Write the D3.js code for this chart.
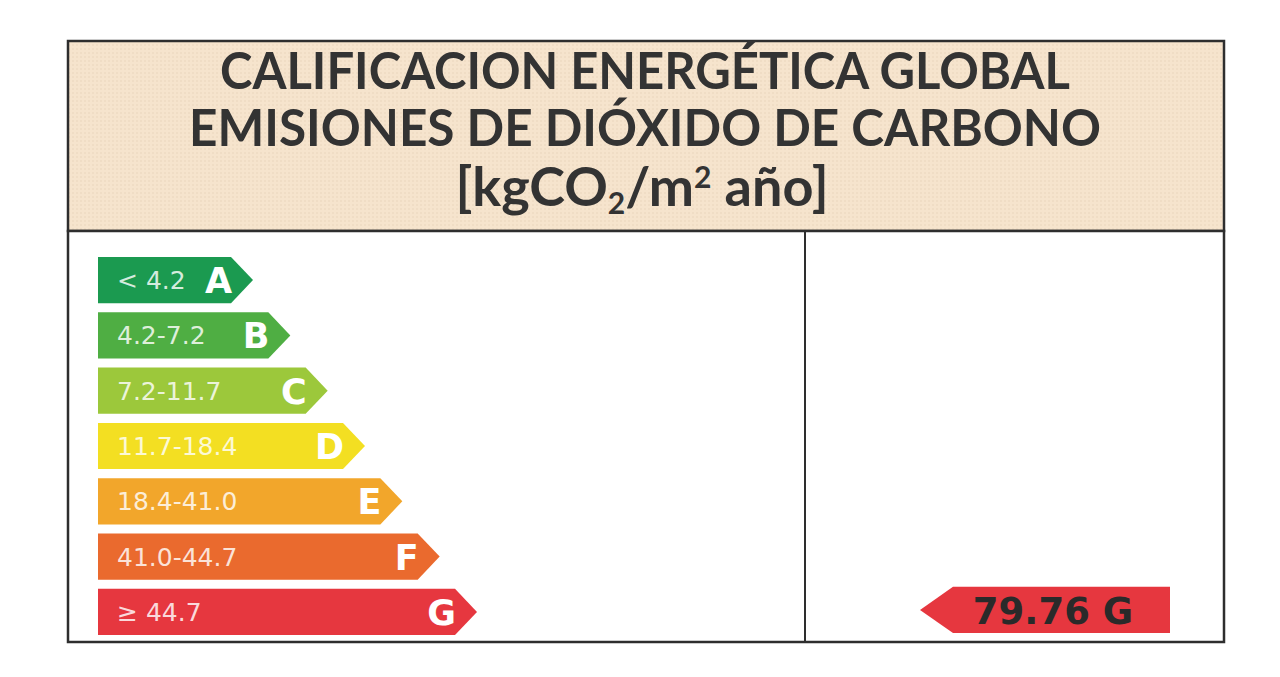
<!DOCTYPE html>
<html>
<head>
<meta charset="utf-8">
<script src="https://cdn.jsdelivr.net/npm/d3@7"></script>
<style>
  html, body { margin: 0; padding: 0; background: #ffffff; }
  svg { display: block; }
</style>
</head>
<body>
<div id="chart"></div>
<script>
// ---- data ----
const classes = ["A", "B", "C", "D", "E", "F", "G"];
const rangeLabels = ["< 4.2", "4.2-7.2", "7.2-11.7", "11.7-18.4", "18.4-41.0", "41.0-44.7", "\u2265 44.7"];
const classColors = ["#1b9a50", "#4fae43", "#9cc83b", "#f3df22", "#f2a62b", "#ea6a2e", "#e6373f"];
const titleLines = ["CALIFICACION ENERGÉTICA GLOBAL", "EMISIONES DE DIÓXIDO DE CARBONO"];
const ratingValue = 79.76;
const ratingClass = "G";

// ---- layout ----
const W = 1280, H = 677;
const svg = d3.select("#chart").append("svg").attr("width", W).attr("height", H);

const box = { left: 68, right: 1224, top: 41, mid: 231, bottom: 642, divider: 805 };

// texture pattern for header
const defs = svg.append("defs");
const pat = defs.append("pattern").attr("id", "dots").attr("width", 4).attr("height", 4)
  .attr("patternUnits", "userSpaceOnUse");
pat.append("rect").attr("width", 4).attr("height", 4).attr("fill", "#f6e4cd");
pat.append("circle").attr("cx", 1).attr("cy", 1).attr("r", 0.7).attr("fill", "#e6d2b8");

// header box
svg.append("rect")
  .attr("x", box.left).attr("y", box.top)
  .attr("width", box.right - box.left).attr("height", box.mid - box.top)
  .attr("fill", "url(#dots)").attr("stroke", "#2e2e2e").attr("stroke-width", 2.5);

// lower box
svg.append("rect")
  .attr("x", box.left).attr("y", box.mid)
  .attr("width", box.right - box.left).attr("height", box.bottom - box.mid)
  .attr("fill", "#ffffff").attr("stroke", "#2e2e2e").attr("stroke-width", 2.5);
svg.append("line")
  .attr("x1", box.divider).attr("x2", box.divider)
  .attr("y1", box.mid).attr("y2", box.bottom)
  .attr("stroke", "#2e2e2e").attr("stroke-width", 2);

// title
const cx = 645;
const titleFont = "Lato, 'Open Sans', sans-serif";
const titleWidths = [850, 912];
const titleBase = [89, 146];
titleLines.forEach((t, i) => {
  svg.append("text")
    .attr("x", cx).attr("y", titleBase[i])
    .attr("text-anchor", "middle")
    .attr("font-family", titleFont).attr("font-weight", 700)
    .attr("font-size", 52)
    .attr("fill", "#333333")
    .attr("textLength", titleWidths[i]).attr("lengthAdjust", "spacingAndGlyphs")
    .text(t);
});
const unit = svg.append("text")
  .attr("x", cx - 3).attr("y", 206)
  .attr("text-anchor", "middle")
  .attr("font-family", titleFont).attr("font-weight", 700)
  .attr("font-size", 54).attr("fill", "#333333");
unit.append("tspan").text("[kgCO");
unit.append("tspan").attr("font-size", 30).attr("dy", 8).text("2");
unit.append("tspan").attr("dy", -8).text("/m");
unit.append("tspan").attr("font-size", 30).attr("dy", -18).text("2");
unit.append("tspan").attr("dy", 18).text(" año]");

// ---- scales ----
const y = d3.scaleBand().domain(classes).range([257, 635]).paddingInner(0.165);
const tipX = d3.scaleLinear().domain([0, classes.length - 1]).range([253, 477]);
const barLeft = 98;
const arrowDepth = 22;

const bars = svg.append("g").selectAll("g").data(classes).join("g");

bars.append("path")
  .attr("d", (d, i) => {
    const y0 = y(d), h = y.bandwidth(), t = tipX(i), b = t - arrowDepth;
    return `M${barLeft},${y0}L${b},${y0}L${t},${y0 + h / 2}L${b},${y0 + h}L${barLeft},${y0 + h}Z`;
  })
  .attr("fill", (d, i) => classColors[i]);

bars.append("text")
  .attr("x", barLeft + 19)
  .attr("y", d => y(d) + y.bandwidth() / 2)
  .attr("dy", "0.36em")
  .attr("font-family", "'DejaVu Sans', Verdana, sans-serif")
  .attr("font-size", 25)
  .attr("fill", "#ffffff").attr("fill-opacity", 0.82)
  .text((d, i) => rangeLabels[i]);

bars.append("text")
  .attr("x", (d, i) => tipX(i) - arrowDepth + 1)
  .attr("y", d => y(d) + y.bandwidth() / 2)
  .attr("dy", "0.37em")
  .attr("text-anchor", "end")
  .attr("font-family", "'DejaVu Sans', Verdana, sans-serif")
  .attr("font-weight", 700)
  .attr("font-size", 35)
  .attr("fill", "#ffffff")
  .text(d => d);

// ---- rating indicator ----
const ri = classes.indexOf(ratingClass);
const ind = { tip: 920, body: 953, right: 1170 };
const iy0 = y(ratingClass) - 2, ih = y.bandwidth();
svg.append("path")
  .attr("d", `M${ind.tip},${iy0 + ih / 2}L${ind.body},${iy0}L${ind.right},${iy0}L${ind.right},${iy0 + ih}L${ind.body},${iy0 + ih}Z`)
  .attr("fill", classColors[ri]);
svg.append("text")
  .attr("x", 1053).attr("y", iy0 + ih / 2)
  .attr("dy", "0.37em")
  .attr("text-anchor", "middle")
  .attr("font-family", "'DejaVu Sans', Verdana, sans-serif")
  .attr("font-weight", 700)
  .attr("font-size", 37)
  .attr("fill", "#2a2a2a")
  .text(ratingValue.toFixed(2) + " " + ratingClass);
</script>
</body>
</html>
